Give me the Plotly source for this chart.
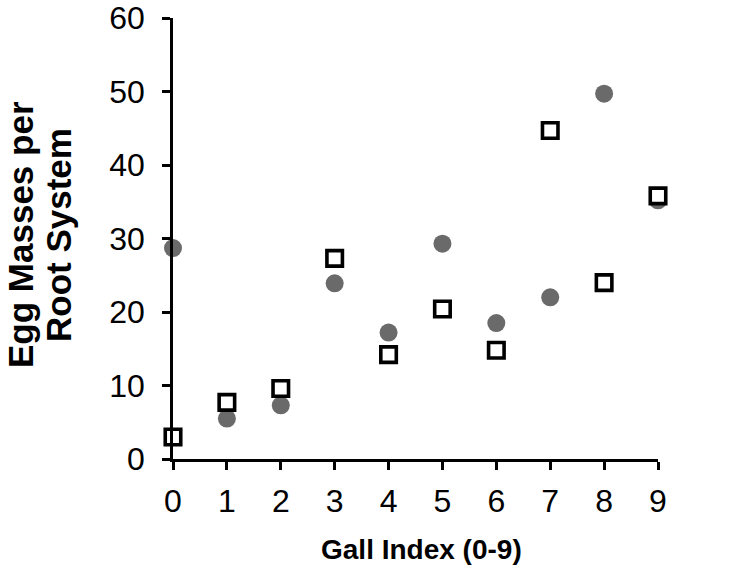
import plotly.graph_objects as go

gall_index = [0, 1, 2, 3, 4, 5, 6, 7, 8, 9]
circle_values = [28.7, 5.5, 7.3, 23.9, 17.2, 29.3, 18.5, 22.0, 49.7, 35.2]
square_values = [3.0, 7.7, 9.6, 27.3, 14.2, 20.4, 14.8, 44.7, 24.0, 35.8]
x_ticks = [0, 1, 2, 3, 4, 5, 6, 7, 8, 9]
y_ticks = [0, 10, 20, 30, 40, 50, 60]
x_title = "Gall Index (0-9)"
y_title_lines = ["Egg Masses per", "Root System"]

fig = go.Figure()
fig.add_trace(go.Scatter(
    x=gall_index, y=circle_values, mode="markers",
    marker=dict(symbol="circle", size=18, color="#6a6a6a", line=dict(width=0)),
    cliponaxis=False, showlegend=False))
fig.add_trace(go.Scatter(
    x=gall_index, y=square_values, mode="markers",
    marker=dict(symbol="square", size=15.5, color="white", line=dict(width=3.6, color="black")),
    cliponaxis=False, showlegend=False))

font_family = "Liberation Sans, Arial, sans-serif"
fig.update_layout(
    width=737, height=570,
    margin=dict(l=173, r=79, t=18, b=111),
    plot_bgcolor="white", paper_bgcolor="white",
    font=dict(family=font_family, color="black", size=32),
    xaxis=dict(range=[0, 9], tickvals=x_ticks, showgrid=False, zeroline=False,
               showline=True, linecolor="black", linewidth=2.5, automargin=False,
               ticks="outside", ticklen=8, tickwidth=2.5, tickcolor="black",
               tickfont=dict(size=32), ticklabelstandoff=4,
               ticklabeloverflow="allow"),
    yaxis=dict(range=[0, 60], tickvals=y_ticks, showgrid=False, zeroline=False,
               showline=True, linecolor="black", linewidth=2.5, automargin=False,
               ticks="outside", ticklen=8, tickwidth=2.5, tickcolor="black",
               tickfont=dict(size=32), ticklabelstandoff=11,
               ticklabeloverflow="allow"),
)

# x-axis title
fig.add_annotation(text="<b>" + x_title + "</b>",
                   xref="paper", yref="paper", x=0.5, y=0,
                   xanchor="center", yanchor="middle",
                   xshift=6, yshift=-90, showarrow=False,
                   font=dict(size=28, family=font_family, color="black"))

# y-axis title (two lines)
line_shifts = [-152, -114]
for txt, xs in zip(y_title_lines, line_shifts):
    fig.add_annotation(text="<b>" + txt + "</b>", textangle=-90,
                       xref="paper", yref="paper", x=0, y=0.508,
                       xanchor="center", yanchor="middle",
                       xshift=xs, showarrow=False,
                       font=dict(size=35, family=font_family, color="black"))

fig.write_html("out.html",
               config={"displayModeBar": False},
               post_script="document.body.style.margin='0';document.body.style.padding='0';")
